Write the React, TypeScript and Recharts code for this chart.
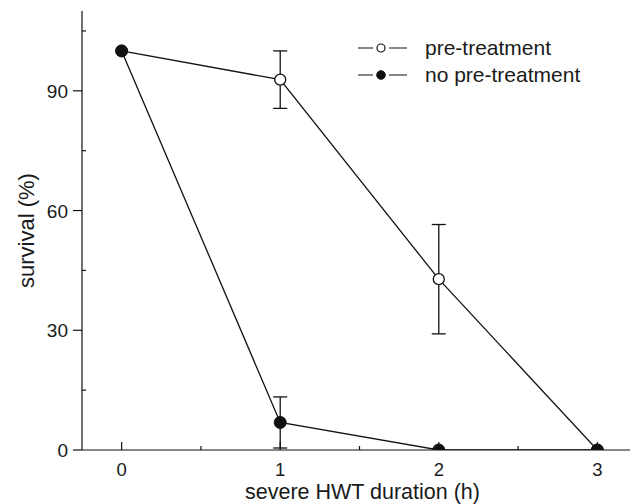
import React from 'react';
import { LineChart, Line, XAxis, YAxis, ErrorBar, Legend } from 'recharts';

const durations = [0, 1, 2, 3];
const preTreatment = [100, 92.8, 42.8, 0];
const preTreatmentErr = [0, 7.2, 13.7, 0];
const noPreTreatment = [100, 6.9, 0, 0];
const noPreTreatmentErr = [0, 6.4, 0, 0];

const xTicks = [0, 0.5, 1, 1.5, 2, 2.5, 3];
const xMajorTicks = [0, 1, 2, 3];
const yTicks = [0, 15, 30, 45, 60, 75, 90, 105];
const yMajorTicks = [0, 30, 60, 90];

const seriesNames = ['pre-treatment', 'no pre-treatment'];
const xTitle = 'severe HWT duration (h)';
const yTitle = 'survival (%)';

const data = durations.map((d, i) => ({
  x: d,
  pre: preTreatment[i],
  preErr: preTreatmentErr[i],
  no: noPreTreatment[i],
  noErr: noPreTreatmentErr[i],
}));

const INK = '#111';
const FONT = '"Liberation Sans", Arial, Helvetica, sans-serif';

const BottomTick = (props: any) => {
  const { x, y, payload } = props;
  const v = payload.value;
  const major = xMajorTicks.includes(v);
  return (
    <g>
      <line x1={x} y1={y} x2={x} y2={major ? y - 8 : y - 4} stroke={INK} strokeWidth={1.2} />
      {major && (
        <text x={x} y={y + 25.5} textAnchor="middle" fontSize={18.5} fontFamily={FONT} fill="#1a1a1a">
          {v}
        </text>
      )}
    </g>
  );
};

const LeftTick = (props: any) => {
  const { x, y, payload } = props;
  const v = payload.value;
  const major = yMajorTicks.includes(v);
  return (
    <g>
      <line x1={x} y1={y} x2={major ? x - 9 : x + 4} y2={y} stroke={INK} strokeWidth={1.2} />
      {major && (
        <text x={x - 14} y={y + 7} textAnchor="end" fontSize={19} fontFamily={FONT} fill="#1a1a1a">
          {v}
        </text>
      )}
    </g>
  );
};

const TopTick = (props: any) => {
  const { x, y } = props;
  return <line x1={x} y1={y} x2={x} y2={y + 3} stroke={INK} strokeWidth={1.2} />;
};

const LegendContent = () => (
  <svg width={630} height={100} style={{ display: 'block' }}>
    <g>
      <line x1={358} y1={48} x2={373} y2={48} stroke="#444" strokeWidth={1.3} />
      <line x1={389} y1={48} x2={407} y2={48} stroke="#444" strokeWidth={1.3} />
      <circle cx={381} cy={48} r={4} fill="#fff" stroke={INK} strokeWidth={1.2} />
      <text x={425} y={55} fontSize={21} fontFamily={FONT} fill="#1a1a1a">{seriesNames[0]}</text>
    </g>
    <g>
      <line x1={358} y1={75} x2={373} y2={75} stroke="#444" strokeWidth={1.3} />
      <line x1={389} y1={75} x2={407} y2={75} stroke="#444" strokeWidth={1.3} />
      <circle cx={381} cy={75} r={4.3} fill={INK} stroke={INK} strokeWidth={1} />
      <text x={425} y={82} fontSize={21} fontFamily={FONT} fill="#1a1a1a">{seriesNames[1]}</text>
    </g>
  </svg>
);

export default function App() {
  return (
    <div style={{ position: 'absolute', left: 0, top: 0, width: 630, height: 504, overflow: 'hidden', background: '#fff' }}>
      <LineChart width={660} height={504} data={data} margin={{ top: 11, right: 23, bottom: 0, left: 0 }}>
        <XAxis
          dataKey="x"
          type="number"
          domain={[-0.25, 3.25]}
          ticks={xTicks}
          interval={0}
          height={54}
          tickSize={0}
          tickMargin={0}
          tickLine={false}
          tick={<BottomTick />}
          axisLine={{ stroke: INK, strokeWidth: 1.2 }}
          allowDataOverflow
          label={{
            content: (p: any) => {
              const vb = p.viewBox;
              const cx = vb.x + vb.width / 2 + 3;
              return (
                <text x={cx} y={499.3} textAnchor="middle" fontSize={21.5} fontFamily={FONT} fill="#1a1a1a">
                  {xTitle}
                </text>
              );
            },
          }}
        />
        <XAxis
          xAxisId="top"
          orientation="top"
          dataKey="x"
          type="number"
          domain={[-0.25, 3.25]}
          ticks={xMajorTicks}
          interval={0}
          height={0}
          tickSize={0}
          tickMargin={0}
          tickLine={false}
          tick={<TopTick />}
          axisLine={{ stroke: INK, strokeWidth: 1.2 }}
          allowDataOverflow
        />
        <YAxis
          type="number"
          domain={[0, 110]}
          ticks={yTicks}
          interval={0}
          width={82}
          tickSize={0}
          tickMargin={0}
          tickLine={false}
          tick={<LeftTick />}
          axisLine={{ stroke: INK, strokeWidth: 1.2 }}
          allowDataOverflow
          label={{
            content: (p: any) => {
              const vb = p.viewBox;
              const cx = 34;
              const cy = vb.y + vb.height / 2;
              return (
                <text x={cx} y={cy} transform={`rotate(-90 ${cx} ${cy})`} textAnchor="middle" fontSize={22} fontFamily={FONT} fill="#1a1a1a">
                  {yTitle}
                </text>
              );
            },
          }}
        />
        <Legend
          layout="vertical"
          align="center"
          verticalAlign="middle"
          content={<LegendContent />}
          wrapperStyle={{ position: 'absolute', left: 0, top: 0, width: 630, height: 100 }}
        />
        <Line
          dataKey="pre"
          name={seriesNames[0]}
          stroke={INK}
          strokeWidth={1.3}
          isAnimationActive={false}
          dot={{ r: 5.5, fill: '#fff', stroke: INK, strokeWidth: 1.3 }}
          activeDot={false}
        >
          <ErrorBar dataKey="preErr" width={7} stroke={INK} strokeWidth={1.3} direction="y" isAnimationActive={false} />
        </Line>
        <Line
          dataKey="no"
          name={seriesNames[1]}
          stroke={INK}
          strokeWidth={1.3}
          isAnimationActive={false}
          dot={{ r: 6, fill: INK, stroke: INK, strokeWidth: 1 }}
          activeDot={false}
        >
          <ErrorBar dataKey="noErr" width={7} stroke={INK} strokeWidth={1.3} direction="y" isAnimationActive={false} />
        </Line>
      </LineChart>
    </div>
  );
}
